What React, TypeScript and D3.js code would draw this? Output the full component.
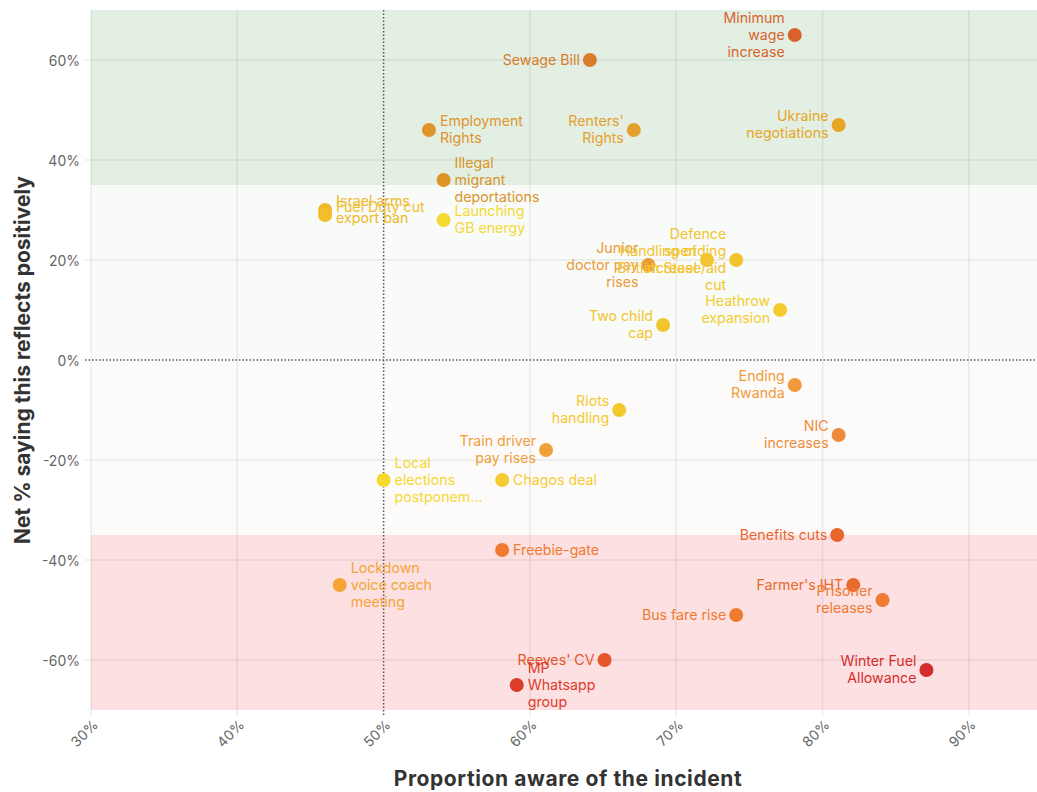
import React from "react";
import * as d3 from "d3";

// ---- Data ----
const labels: string[] = [
  "Minimum\nwage\nincrease",
  "Sewage Bill",
  "Employment\nRights",
  "Renters'\nRights",
  "Ukraine\nnegotiations",
  "Illegal\nmigrant\ndeportations",
  "Israel arms\nexport ban",
  "Fuel Duty cut",
  "Launching\nGB energy",
  "Junior\ndoctor pay\nrises",
  "Handling of\nBritish Steel",
  "Defence\nspending\nincrease/aid\ncut",
  "Heathrow\nexpansion",
  "Two child\ncap",
  "Ending\nRwanda",
  "Riots\nhandling",
  "NIC\nincreases",
  "Train driver\npay rises",
  "Local\nelections\npostponem…",
  "Chagos deal",
  "Benefits cuts",
  "Freebie-gate",
  "Lockdown\nvoice coach\nmeeting",
  "Farmer's IHT",
  "Prisoner\nreleases",
  "Bus fare rise",
  "Reeves' CV",
  "MP\nWhatsapp\ngroup",
  "Winter Fuel\nAllowance",
];

const aware: number[] = [
  78.1, 64.1, 53.1, 67.1, 81.1, 54.1, 46, 46, 54.1, 68.1, 72.1, 74.1, 77.1, 69.1, 78.1, 66.1, 81.1, 61.1, 50, 58.1, 81, 58.1, 47, 82.1, 84.1, 74.1, 65.1, 59.1, 87.1,
];

const net: number[] = [
  65, 60, 46, 46, 47, 36, 30, 29, 28, 19, 20, 20, 10, 7, -5, -10, -15, -18, -24, -24, -35, -38, -45, -45, -48, -51, -60, -65, -62,
];

const colors: string[] = [
  "#d9622b", "#d97c2a", "#df942a", "#e3a02c", "#e6a624", "#db9428", "#f0b828", "#f2be2c", "#f3da33",
  "#eb9a3a", "#f2c432", "#f1c42e", "#f3cc30", "#f2c52e", "#f09a3a", "#f3ca2e", "#ee8a3a", "#eea03a",
  "#f5d830", "#f5cc34", "#e8662c", "#f07a30", "#f4a436", "#e86a2c", "#ee7a34", "#ef7a30", "#e4552a",
  "#de3c2a", "#d42c2c",
];

// "L" = label left of dot, "R" = right
const labelSide: string[] = [
  "L", "L", "R", "L", "L", "R", "R", "R", "R", "L", "L", "L", "L", "L", "L", "L", "L", "L", "R", "R", "L", "R", "R", "L", "L", "L", "L", "R", "L",
];

const xTicks: number[] = [30, 40, 50, 60, 70, 80, 90];
const yTicks: number[] = [-60, -40, -20, 0, 20, 40, 60];

const bands = [
  { from: 35, to: 70, fill: "#e3efe3" },
  { from: 0, to: 35, fill: "#f8fbf8" },
  { from: -35, to: 0, fill: "#fdfbfa" },
  { from: -70, to: -35, fill: "#fde0e1" },
];

const W = 1037;
const H = 792;
const FONT = "Inter, 'Open Sans', sans-serif";

export default function App() {
  const x = d3.scaleLinear().domain([30, 95]).range([91, 1042]);
  const y = d3.scaleLinear().domain([-70, 70]).range([710, 10]);
  const left = 91;
  const right = W;
  const lineH = 17;

  const labelDy: Record<number, number> = { 7: -8 };

  return (
    <svg
      width={W}
      height={H}
      style={{ position: "absolute", left: 0, top: 0, background: "#fff" }}
      fontFamily={FONT}
    >
      {bands.map((b, i) => (
        <rect
          key={i}
          x={left}
          y={y(b.to)}
          width={right - left}
          height={y(b.from) - y(b.to)}
          fill={b.fill}
        />
      ))}
      {/* grid */}
      {yTicks.map((t) => (
        <g key={"y" + t}>
          {t !== 0 && (
            <line x1={left - 6} x2={right} y1={y(t)} y2={y(t)} stroke="rgba(0,0,0,0.07)" strokeWidth={1.5} />
          )}
          <text x={80} y={y(t)} textAnchor="end" dominantBaseline="central" fontSize={14} fill="#666">
            {t}%
          </text>
        </g>
      ))}
      {xTicks.map((t) => (
        <g key={"x" + t}>
          {t !== 50 && (
            <line x1={x(t)} x2={x(t)} y1={10} y2={716} stroke="rgba(0,0,0,0.07)" strokeWidth={1.5} />
          )}
          <text
            transform={`translate(${x(t) + 4},${722}) rotate(-45)`}
            textAnchor="end"
            dominantBaseline="central"
            fontSize={14}
            fill="#666"
          >
            {t}%
          </text>
        </g>
      ))}
      {/* reference lines */}
      <line x1={left - 6} x2={right} y1={y(0)} y2={y(0)} stroke="#555" strokeWidth={1.5} strokeDasharray="1.5,2" />
      <line x1={x(50)} x2={x(50)} y1={10} y2={716} stroke="#555" strokeWidth={1.5} strokeDasharray="1.5,2" />

      {/* dots */}
      {labels.map((l, i) => (
        <circle key={"c" + i} cx={x(aware[i])} cy={y(net[i])} r={7} fill={colors[i]} />
      ))}
      {/* labels */}
      {labels.map((l, i) => {
        const lines = l.split("\n");
        const side = labelSide[i];
        const tx = x(aware[i]) + (side === "L" ? -10 : 11);
        const cy = y(net[i]) - 1 + (labelDy[i] || 0);
        return (
          <text
            key={"t" + i}
            x={tx}
            textAnchor={side === "L" ? "end" : "start"}
            fontSize={14.2}
            fill={colors[i]}
          >
            {lines.map((ln, j) => (
              <tspan key={j} x={tx} y={cy + (j - (lines.length - 1) / 2) * lineH} dominantBaseline="central">
                {ln}
              </tspan>
            ))}
          </text>
        );
      })}

      {/* axis titles */}
      <text
        x={568}
        y={778}
        textAnchor="middle"
        dominantBaseline="central"
        fontSize={21}
        fontWeight={700}
        letterSpacing={0.6}
        fill="#333"
      >
        Proportion aware of the incident
      </text>
      <text
        transform={`translate(22,360) rotate(-90)`}
        textAnchor="middle"
        dominantBaseline="central"
        fontSize={21}
        fontWeight={700}
        fill="#333"
      >
        Net % saying this reflects positively
      </text>
    </svg>
  );
}
